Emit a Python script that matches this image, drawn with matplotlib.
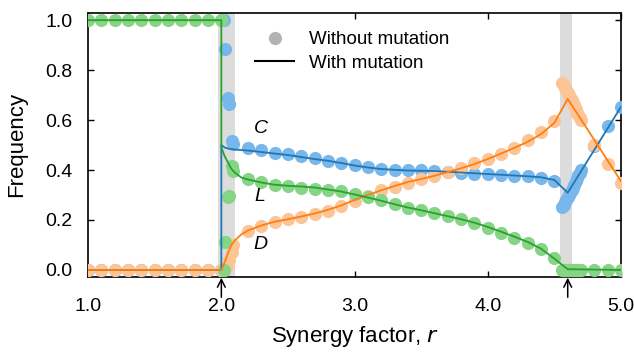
import numpy as np
import matplotlib
matplotlib.use("Agg")
from matplotlib import pyplot as plt
from matplotlib.lines import Line2D

plt.rcParams['font.family'] = ['Liberation Sans', 'DejaVu Sans']

# simulation points (without mutation)
r_dots = [1.0, 1.1, 1.2, 1.3, 1.4, 1.5, 1.6, 1.7, 1.8, 1.9, 2.0,
          2.02, 2.03, 2.05, 2.06, 2.08, 2.09,
          2.2, 2.3, 2.4, 2.5, 2.6, 2.7, 2.8, 2.9, 3.0, 3.1, 3.2, 3.3, 3.4,
          3.5, 3.6, 3.7, 3.8, 3.9, 4.0, 4.1, 4.2, 4.3, 4.4, 4.5,
          4.56, 4.57, 4.58, 4.59, 4.60, 4.61, 4.62, 4.63, 4.64, 4.65,
          4.66, 4.67, 4.68, 4.69, 4.70,
          4.8, 4.9, 5.0]
C_dots = [0, 0, 0, 0, 0, 0, 0, 0, 0, 0, 0,
          1.0, 0.885, 0.69, 0.665, 0.515, 0.505,
          0.490, 0.479, 0.470, 0.464, 0.456, 0.447, 0.438, 0.430, 0.422, 0.413,
          0.406, 0.402, 0.399, 0.399, 0.397, 0.394, 0.389, 0.385, 0.385, 0.381,
          0.378, 0.375, 0.369, 0.355,
          0.25, 0.26, 0.27, 0.28, 0.29, 0.30, 0.31, 0.32, 0.33, 0.34,
          0.355, 0.37, 0.38, 0.39, 0.40,
          0.498, 0.575, 0.653]
L_dots = [1, 1, 1, 1, 1, 1, 1, 1, 1, 1, 1,
          0.0, 0.11, 0.29, 0.295, 0.415, 0.395,
          0.365, 0.351, 0.342, 0.338, 0.329, 0.326, 0.322, 0.316, 0.306, 0.293,
          0.279, 0.262, 0.249, 0.238, 0.226, 0.215, 0.202, 0.189, 0.169, 0.149,
          0.129, 0.109, 0.082, 0.049,
          0, 0, 0, 0, 0, 0, 0, 0, 0, 0, 0, 0, 0, 0, 0,
          0, 0, 0]
D_dots = [0, 0, 0, 0, 0, 0, 0, 0, 0, 0, 0,
          0.0, 0.005, 0.02, 0.04, 0.07, 0.10,
          0.155, 0.176, 0.193, 0.203, 0.213, 0.222, 0.235, 0.255, 0.275, 0.295,
          0.319, 0.333, 0.349, 0.365, 0.378, 0.393, 0.407, 0.429, 0.445, 0.466,
          0.489, 0.519, 0.551, 0.595,
          0.75, 0.74, 0.73, 0.72, 0.71, 0.70, 0.69, 0.68, 0.67, 0.66,
          0.645, 0.63, 0.62, 0.61, 0.60,
          0.50, 0.426, 0.349]

# model curves (with mutation)
r_line = [1.0, 2.0, 2.0, 2.025, 2.05, 2.075, 2.1, 2.15, 2.2, 2.3, 2.4, 2.5,
          2.6, 2.7, 2.8, 2.9, 3.0, 3.1, 3.2, 3.3, 3.4, 3.5, 3.6, 3.7, 3.8,
          3.9, 4.0, 4.1, 4.2, 4.3, 4.4, 4.5, 4.6, 5.0]
C_line = [0, 0, 0.500, 0.490, 0.486, 0.484, 0.482, 0.480, 0.478, 0.472,
          0.466, 0.460, 0.452, 0.444, 0.437, 0.428, 0.418, 0.410, 0.404,
          0.401, 0.398, 0.397, 0.396, 0.393, 0.390, 0.387, 0.384, 0.381,
          0.378, 0.375, 0.371, 0.360, 0.309, 0.653]
L_line = [1, 1, 0.490, 0.455, 0.430, 0.405, 0.390, 0.370, 0.362, 0.350,
          0.341, 0.337, 0.334, 0.330, 0.322, 0.314, 0.302, 0.290, 0.277,
          0.263, 0.250, 0.239, 0.227, 0.215, 0.203, 0.189, 0.172, 0.153,
          0.133, 0.112, 0.085, 0.045, 0.003, 0.0]
D_line = [0, 0, 0, 0.030, 0.068, 0.098, 0.118, 0.142, 0.158, 0.178,
          0.193, 0.203, 0.214, 0.226, 0.241, 0.258, 0.280, 0.300, 0.319,
          0.336, 0.352, 0.364, 0.377, 0.392, 0.407, 0.424, 0.444, 0.466,
          0.489, 0.513, 0.544, 0.589, 0.685, 0.355]

# bistable / transition windows and critical points
bands = [(1.975, 2.10), (4.545, 4.63)]
arrows_r = [2.0, 4.6]

fig = plt.figure(figsize=(6.34, 3.52), dpi=100)
ax = fig.add_axes([0.139, 0.214, 0.8405, 0.750])

for lo, hi in bands:
    ax.axvspan(lo, hi, color='#dcdcdc', lw=0, zorder=0)

ax.scatter(r_dots, C_dots, s=90, color='#78b7ec', lw=0, zorder=3)
ax.scatter(r_dots, D_dots, s=90, color='#fdc596', lw=0, zorder=3)
ax.scatter(r_dots, L_dots, s=90, color='#86d586', lw=0, zorder=3)

ax.plot(r_line, C_line, color='#1f77b4', lw=1.3, zorder=4)
ax.plot(r_line, D_line, color='#ff7f0e', lw=1.3, zorder=4)
ax.plot(r_line, L_line, color='#2ca02c', lw=1.3, zorder=4)

ax.text(2.297, 0.565, 'C', style='italic', fontsize=14, ha='center', va='center')
ax.text(2.29, 0.293, 'L', style='italic', fontsize=14, ha='center', va='center')
ax.text(2.297, 0.101, 'D', style='italic', fontsize=14, ha='center', va='center')

for xr in arrows_r:
    ax.annotate('', xy=(xr, -0.004), xytext=(xr, -0.078),
                xycoords=('data', 'axes fraction'),
                textcoords=('data', 'axes fraction'),
                arrowprops=dict(arrowstyle='->', color='black', lw=1.1,
                                mutation_scale=14, shrinkA=0, shrinkB=0),
                annotation_clip=False)

ax.set_xlim(1.0, 5.0)
ax.set_ylim(-0.027, 1.03)
ax.set_xticks([1.0, 2.0, 3.0, 4.0, 5.0])
ax.set_xticklabels(['1.0', '2.0', '3.0', '4.0', '5.0'])
ax.set_yticks([0.0, 0.2, 0.4, 0.6, 0.8, 1.0])
ax.set_yticklabels(['0.0', '0.2', '0.4', '0.6', '0.8', '1.0'])
ax.tick_params(direction='in', length=4.5, width=1.0, top=True, right=True,
               labelsize=14)
ax.tick_params(axis='x', pad=15)
ax.tick_params(axis='y', pad=11)
for sp in ax.spines.values():
    sp.set_linewidth(1.2)

ax.set_xlabel('Synergy factor, $r$', fontsize=16, labelpad=7)
ax.set_ylabel('Frequency', fontsize=16, labelpad=13)

handles = [Line2D([], [], marker='o', ls='none', color='#b3b3b3', markersize=9.5,
                  markeredgewidth=0),
           Line2D([], [], color='black', lw=1.5)]
ax.legend(handles, ['Without mutation', 'With mutation'], loc='upper left',
          bbox_to_anchor=(0.313, 0.93), frameon=False, fontsize=13.5,
          handlelength=2.1, handletextpad=0.8, labelspacing=0.35, borderpad=0,
          borderaxespad=0)

fig.savefig('out.png', dpi=100)
